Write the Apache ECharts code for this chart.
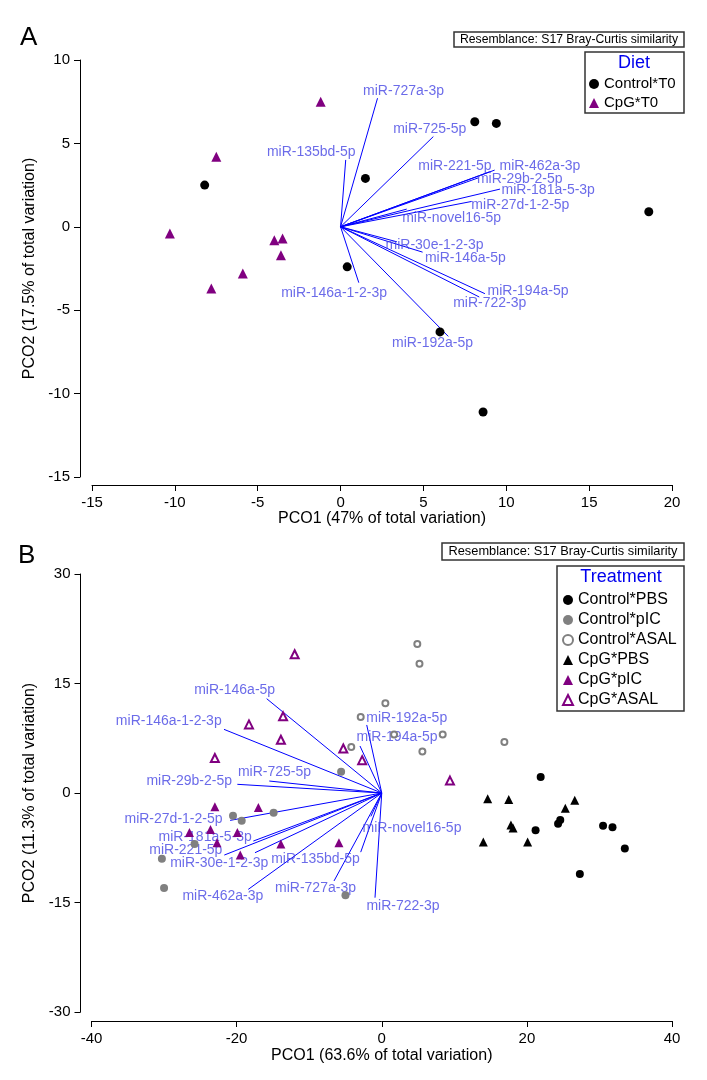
<!DOCTYPE html>
<html>
<head>
<meta charset="utf-8">
<script src="https://cdn.jsdelivr.net/npm/echarts@6/dist/echarts.min.js"></script>
<style>
html,body{margin:0;padding:0;background:#fff;}
#chart{width:707px;height:1080px;}
</style>
</head>
<body>
<div id="chart"></div>
<script>
// ---------- Panel A data ----------
const ctrlT0X = [-8.2, 1.5, 0.4, 8.1, 9.4, 18.6, 6.0, 8.6];
const ctrlT0Y = [2.5, 2.9, -2.4, 6.3, 6.2, 0.9, -6.3, -11.1];
const cpgT0X = [-1.2, -7.5, -10.3, -4.0, -3.5, -3.6, -5.9, -7.8];
const cpgT0Y = [7.5, 4.2, -0.4, -0.8, -0.7, -1.7, -2.8, -3.7];

const vecNamesA = ['miR-727a-3p','miR-135bd-5p','miR-725-5p','miR-221-5p','miR-462a-3p','miR-29b-2-5p','miR-181a-5-3p','miR-27d-1-2-5p','miR-novel16-5p','miR-30e-1-2-3p','miR-146a-5p','miR-194a-5p','miR-722-3p','miR-192a-5p','miR-146a-1-2-3p'];
const vecXA = [2.23, 0.31, 5.6, 9.0, 9.3, 8.3, 9.62, 7.91, 3.99, 3.4, 4.95, 8.71, 8.37, 6.5, 1.1];
const vecYA = [7.71, 4.01, 5.41, 3.3, 3.4, 2.93, 2.26, 1.52, 1.06, -0.9, -1.52, -4.01, -4.21, -6.57, -3.35];
const labXA = [3.80, -1.77, 5.38, 6.90, 12.03, 10.81, 12.53, 10.85, 6.70, 5.67, 7.53, 11.31, 9.0, 5.55, -0.39];
const labYA = [8.14, 4.47, 5.87, 3.65, 3.65, 2.86, 2.17, 1.32, 0.54, -1.08, -1.87, -3.87, -4.57, -6.96, -3.97];

const xTicksA = {min: -15, max: 20, interval: 5};
const yTicksA = {min: -15, max: 10, interval: 5};

// ---------- Panel B data ----------
const ctrlPBSX = [21.9, 21.2, 24.3, 24.6, 30.5, 31.8, 33.5, 27.3];
const ctrlPBSY = [2.2, -5.1, -4.2, -3.7, -4.5, -4.7, -7.6, -11.1];
const ctrlPICX = [-5.6, -20.5, -19.3, -14.9, -25.8, -30.3, -30.0, -5.0];
const ctrlPICY = [2.9, -3.1, -3.8, -2.7, -7.0, -9.0, -13.0, -14.0];
const ctrlASALX = [4.9, 5.2, 0.5, -2.9, 1.7, 8.4, 5.6, 16.9, -4.2];
const ctrlASALY = [20.4, 17.7, 12.3, 10.4, 8.0, 8.0, 5.7, 7.0, 6.3];
const cpgPBSX = [14.6, 17.5, 26.6, 25.3, 17.8, 18.1, 14.0, 20.1];
const cpgPBSY = [-0.8, -0.9, -1.0, -2.1, -4.4, -4.8, -6.7, -6.7];
const cpgPICX = [-23.0, -17.0, -26.5, -23.6, -19.9, -22.7, -19.5, -13.9, -5.9];
const cpgPICY = [-1.9, -2.0, -5.4, -5.0, -5.4, -6.8, -8.5, -7.0, -6.8];
const cpgASALX = [-12.0, -13.6, -18.3, -13.9, -23.0, -5.3, -2.7, 9.4];
const cpgASALY = [19.0, 10.5, 9.4, 7.3, 4.8, 6.1, 4.5, 1.7];

const vecNamesB = ['miR-146a-5p','miR-146a-1-2-3p','miR-725-5p','miR-29b-2-5p','miR-192a-5p','miR-194a-5p','miR-27d-1-2-5p','miR-181a-5-3p','miR-221-5p','miR-30e-1-2-3p','miR-462a-3p','miR-135bd-5p','miR-727a-3p','miR-722-3p','miR-novel16-5p'];
const vecXB = [-15.86, -21.74, -15.5, -19.9, -2.07, -3.0, -20.9, -17.7, -21.7, -17.47, -18.4, -2.9, -6.58, -0.93, -1.5];
const vecYB = [12.92, 8.72, 1.64, 1.19, 9.32, 6.44, -3.75, -6.58, -8.5, -8.18, -13.2, -8.1, -12.05, -14.34, -3.2];
const labXB = [-20.27, -29.35, -14.78, -26.54, 3.44, 2.1, -28.7, -24.33, -27.0, -22.4, -21.9, -9.13, -9.13, 2.93, 4.17];
const labYB = [14.1, 9.86, 2.88, 1.64, 10.32, 7.71, -3.52, -6.03, -7.8, -9.6, -14.1, -9.0, -12.97, -15.48, -4.84];

const xTicksB = {min: -40, max: 40, interval: 20};
const yTicksB = {min: -30, max: 30, interval: 15};

const legendA = ['Control*T0', 'CpG*T0'];
const legendB = ['Control*PBS', 'Control*pIC', 'Control*ASAL', 'CpG*PBS', 'CpG*pIC', 'CpG*ASAL'];

// ---------- build ----------
const FONT = "'Liberation Sans', Arial, sans-serif";
const zip = (xs, ys) => xs.map((x, i) => [x, ys[i]]);
const PURPLE = '#800080', GRAY = '#808080', VBLUE = '#0000ff', LBLUE = '#4646e4';

function axisCommon(t) {
  return {
    type: 'value', min: t.min, max: t.max, interval: t.interval,
    splitLine: {show: false},
    axisLine: {show: true, onZero: false, lineStyle: {color: '#000', width: 1}},
    axisTick: {show: true, inside: false, length: 6, lineStyle: {color: '#000'}},
    axisLabel: {color: '#000', fontSize: 15, fontFamily: FONT, margin: 10},
    nameTextStyle: {color: '#000', fontSize: 16, fontFamily: FONT},
    nameLocation: 'middle'
  };
}

function vectorSeries(idx, names, vx, vy) {
  return {
    type: 'lines', coordinateSystem: 'cartesian2d', xAxisIndex: idx, yAxisIndex: idx,
    polyline: false, silent: true, z: 2,
    lineStyle: {color: VBLUE, width: 1, opacity: 1},
    data: names.map((n, i) => ({coords: [[0, 0], [vx[i], vy[i]]]}))
  };
}
function labelSeries(idx, names, lx, ly) {
  return {
    type: 'scatter', xAxisIndex: idx, yAxisIndex: idx, symbolSize: 0, silent: true, z: 3,
    label: {show: true, position: 'inside', formatter: p => p.name, color: LBLUE, fontSize: 14, fontFamily: FONT},
    data: names.map((n, i) => ({name: n, value: [lx[i], ly[i]]}))
  };
}
function pts(idx, name, xs, ys, symbol, size, style) {
  return {
    type: 'scatter', name: name, xAxisIndex: idx, yAxisIndex: idx, symbol: symbol, symbolSize: size, z: 5,
    itemStyle: Object.assign({opacity: 1}, style),
    data: zip(xs, ys)
  };
}

const option = {
  animation: false,
  backgroundColor: '#fff',
  textStyle: {fontFamily: FONT},
  grid: [
    {left: 92, right: 35, top: 60, height: 417},
    {left: 91.5, right: 35, top: 574, height: 438}
  ],
  xAxis: [
    Object.assign(axisCommon(xTicksA), {gridIndex: 0, offset: 8, name: 'PCO1 (47% of total variation)', nameGap: 24}),
    Object.assign(axisCommon(xTicksB), {gridIndex: 1, offset: 9, name: 'PCO1 (63.6% of total variation)', nameGap: 27})
  ],
  yAxis: [
    Object.assign(axisCommon(yTicksA), {gridIndex: 0, offset: 12, name: 'PCO2 (17.5% of total variation)', nameGap: 28}),
    Object.assign(axisCommon(yTicksB), {gridIndex: 1, offset: 11, name: 'PCO2 (11.3% of total variation)', nameGap: 28})
  ],
  legend: [
    {data: legendA, orient: 'vertical', left: 589, top: 74.5, padding: 0, itemGap: 0, itemWidth: 10, itemHeight: 10,
     selectedMode: false, textStyle: {fontSize: 15, lineHeight: 19, color: '#000', fontFamily: FONT}},
    {data: legendB, orient: 'vertical', left: 562, top: 590, padding: 0, itemGap: 0, itemWidth: 10, itemHeight: 10,
     selectedMode: false, textStyle: {fontSize: 16, lineHeight: 20, color: '#000', fontFamily: FONT}}
  ],
  graphic: [
    {type: 'text', left: 20, top: 25, style: {text: 'A', font: "26px 'Liberation Sans', Arial", fill: '#000'}},
    {type: 'text', left: 18, top: 543, style: {text: 'B', font: "26px 'Liberation Sans', Arial", fill: '#000'}},
    {type: 'rect', shape: {x: 454, y: 32, width: 230, height: 15}, style: {fill: '#fff', stroke: '#333', lineWidth: 1.5}},
    {type: 'text', x: 569, y: 39.5, style: {text: 'Resemblance: S17 Bray-Curtis similarity', font: "12.2px 'Liberation Sans', Arial", fill: '#000', align: 'center', verticalAlign: 'middle'}},
    {type: 'rect', shape: {x: 585, y: 52, width: 99, height: 61}, style: {fill: '#fff', stroke: '#333', lineWidth: 1.5}, z: -1},
    {type: 'text', x: 634, y: 63, style: {text: 'Diet', font: "18px 'Liberation Sans', Arial", fill: '#0000ee', align: 'center', verticalAlign: 'middle'}},
    {type: 'rect', shape: {x: 442, y: 543, width: 242, height: 17}, style: {fill: '#fff', stroke: '#333', lineWidth: 1.5}},
    {type: 'text', x: 563, y: 551.5, style: {text: 'Resemblance: S17 Bray-Curtis similarity', font: "12.8px 'Liberation Sans', Arial", fill: '#000', align: 'center', verticalAlign: 'middle'}},
    {type: 'rect', shape: {x: 557, y: 566, width: 127, height: 145}, style: {fill: '#fff', stroke: '#333', lineWidth: 1.5}, z: -1},
    {type: 'text', x: 621, y: 577, style: {text: 'Treatment', font: "18px 'Liberation Sans', Arial", fill: '#0000ee', align: 'center', verticalAlign: 'middle'}}
  ],
  series: [
    vectorSeries(0, vecNamesA, vecXA, vecYA),
    labelSeries(0, vecNamesA, labXA, labYA),
    pts(0, 'Control*T0', ctrlT0X, ctrlT0Y, 'circle', 9, {color: '#000'}),
    pts(0, 'CpG*T0', cpgT0X, cpgT0Y, 'triangle', 10, {color: PURPLE}),
    vectorSeries(1, vecNamesB, vecXB, vecYB),
    labelSeries(1, vecNamesB, labXB, labYB),
    pts(1, 'Control*PBS', ctrlPBSX, ctrlPBSY, 'circle', 8, {color: '#000'}),
    pts(1, 'Control*pIC', ctrlPICX, ctrlPICY, 'circle', 8, {color: GRAY}),
    pts(1, 'Control*ASAL', ctrlASALX, ctrlASALY, 'circle', 6, {color: '#fff', borderColor: GRAY, borderWidth: 2}),
    pts(1, 'CpG*PBS', cpgPBSX, cpgPBSY, 'triangle', 9, {color: '#000'}),
    pts(1, 'CpG*pIC', cpgPICX, cpgPICY, 'triangle', 9, {color: PURPLE}),
    pts(1, 'CpG*ASAL', cpgASALX, cpgASALY, 'triangle', 8, {color: '#fff', borderColor: PURPLE, borderWidth: 2})
  ]
};

const chart = echarts.init(document.getElementById('chart'), null, {renderer: 'canvas'});
chart.setOption(option);
</script>
</body>
</html>
